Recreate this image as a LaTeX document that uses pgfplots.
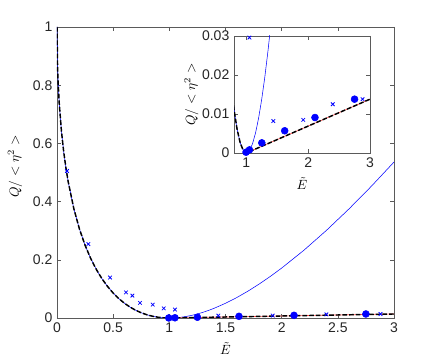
\documentclass[border=0pt]{standalone}
\usepackage{fontspec}
\setmainfont{Liberation Sans}
\usepackage{pgfplots}
\usepackage{pgfplotstable}
\pgfplotsset{compat=1.18}

\definecolor{axgray}{RGB}{90,90,90}
\definecolor{fitred}{rgb}{1,0.3,0.3}

% thin blue curve
\pgfplotstableread{
E Q
0 1
0.005 0.86358
0.01 0.81
0.02 0.73716
0.04 0.64
0.06 0.57010
0.08 0.51432
0.1 0.46754
0.15 0.37540
0.2 0.30557
0.25 0.25
0.3 0.20455
0.35 0.16678
0.4 0.13509
0.45 0.10836
0.5 0.08579
0.55 0.06676
0.6 0.05081
0.65 0.03755
0.7 0.02668
0.75 0.01795
0.8 0.01115
0.85 0.00609
0.9 0.00263
0.95 0.000641
1.0 0
1.05 0.000610
1.1 0.002382
1.15 0.005239
1.2 0.009111
1.25 0.013932
1.3 0.019649
1.35 0.026213
1.4 0.033569
1.5 0.050510
1.6 0.070177
1.7 0.092319
1.8 0.116718
1.9 0.143187
2.0 0.171573
2.2 0.233521
2.4 0.301610
2.6 0.375095
2.8 0.453360
3.0 0.535898
}\bluecurve

% black dashed curve
\pgfplotstableread{
E Q
0 1
0.005 0.86358
0.01 0.81
0.02 0.73716
0.04 0.64
0.06 0.57010
0.08 0.51432
0.1 0.46754
0.15 0.37540
0.2 0.30557
0.25 0.25
0.3 0.20455
0.35 0.16678
0.4 0.13509
0.45 0.10836
0.5 0.08579
0.55 0.06676
0.6 0.05081
0.65 0.03755
0.7 0.02668
0.75 0.01795
0.8 0.01115
0.85 0.00609
0.9 0.00263
0.95 0.000641
1.0 0
3.0 0.0138
}\blackcurve

\pgfplotstableread{
E Q
1 0
3 0.0138
}\redline

\pgfplotstableread{
E Q
0.089 0.505
0.279 0.254
0.472 0.139
0.614 0.088
0.671 0.077
0.739 0.052
0.852 0.046
0.95 0.033
1.05 0.029
1.436 0.0082
1.92 0.0085
2.398 0.0125
2.88 0.0138
}\crosses

\pgfplotstableread{
E Q
1.05 0.0296
1.436 0.0082
1.92 0.0085
2.398 0.0125
2.88 0.0138
}\insetcrosses

\pgfplotstableread{
E Q
0.995 0.0002
1.05 0.0008
1.25 0.0026
1.62 0.0057
2.11 0.0091
2.75 0.0138
}\dots

\begin{document}
\begin{tikzpicture}
\path[use as bounding box] (-42.75pt,-31.5pt) rectangle (284.25pt,238.5pt);
\pgfplotsset{
  mstyle/.style={
    scale only axis,
    axis line style={draw=axgray, line width=0.5pt},
    tick style={draw=axgray, line width=0.4pt},
    major tick length=3pt,
    tick align=inside,
    ticklabel style={font=\fontsize{10.5}{12}\selectfont, text=black!85},
    /pgf/number format/assume math mode=true,
    label style={font=\fontsize{10}{12}\selectfont, text=black!85},
    clip mode=individual,
    axis background/.style={fill=white},
  },
  bluec/.style={blue, line width=0.4pt},
  blackd/.style={black, line width=1.1pt, dash pattern=on 3.5pt off 1.5pt},
  redl/.style={fitred, line width=0.5pt},
  crossm/.style={only marks, mark=x, mark size=1.9pt, blue, mark options={line width=0.6pt}},
  dotm/.style={only marks, mark=*, mark size=2.6pt, blue},
}
\begin{axis}[mstyle,
  at={(0pt,0pt)}, anchor=south west,
  width=252.75pt, height=218.25pt,
  xmin=0, xmax=3, ymin=0, ymax=1,
  xtick={0,0.5,1,1.5,2,2.5,3},
  xticklabels={0,0.5,1,1.5,2,2.5,3},
  ytick={0,0.2,0.4,0.6,0.8,1},
  yticklabels={0,0.2,0.4,0.6,0.8,1},
  xlabel={$\tilde{E}$},
  ylabel={$Q/<\eta^2>$},
  every axis x label/.style={at={(axis description cs:0.5,-0.1054)}, anchor=center},
  every axis y label/.style={at={(axis description cs:-0.1246,0.52)}, anchor=center, rotate=90},
]
\addplot[bluec] table[x=E, y=Q] {\bluecurve};
\addplot[redl] table[x=E, y=Q] {\redline};
\addplot[blackd] table[x=E, y=Q] {\blackcurve};
\addplot[crossm] table[x=E, y=Q] {\crosses};
\addplot[dotm] table[x=E, y=Q] {\dots};
\end{axis}

\begin{axis}[mstyle,
  at={(132.75pt,123.75pt)}, anchor=south west,
  width=102pt, height=87.75pt,
  xmin=0.8, xmax=3, ymin=0, ymax=0.03,
  scaled y ticks=false,
  xtick={1,2,3}, xticklabels={1,2,3},
  ytick={0,0.01,0.02,0.03},
  yticklabels={0,0.01,0.02,0.03},
  xlabel={$\tilde{E}$},
  ylabel={$Q/<\eta^2>$},
  every axis x label/.style={at={(axis description cs:0.5,-0.262)}, anchor=center},
  every axis y label/.style={at={(axis description cs:-0.3137,0.5)}, anchor=center, rotate=90},
]
\addplot[bluec] table[x=E, y=Q] {\bluecurve};
\addplot[redl] table[x=E, y=Q] {\redline};
\addplot[blackd] table[x=E, y=Q] {\blackcurve};
\addplot[crossm] table[x=E, y=Q] {\insetcrosses};
\addplot[dotm] table[x=E, y=Q] {\dots};
\end{axis}
\end{tikzpicture}
\end{document}
